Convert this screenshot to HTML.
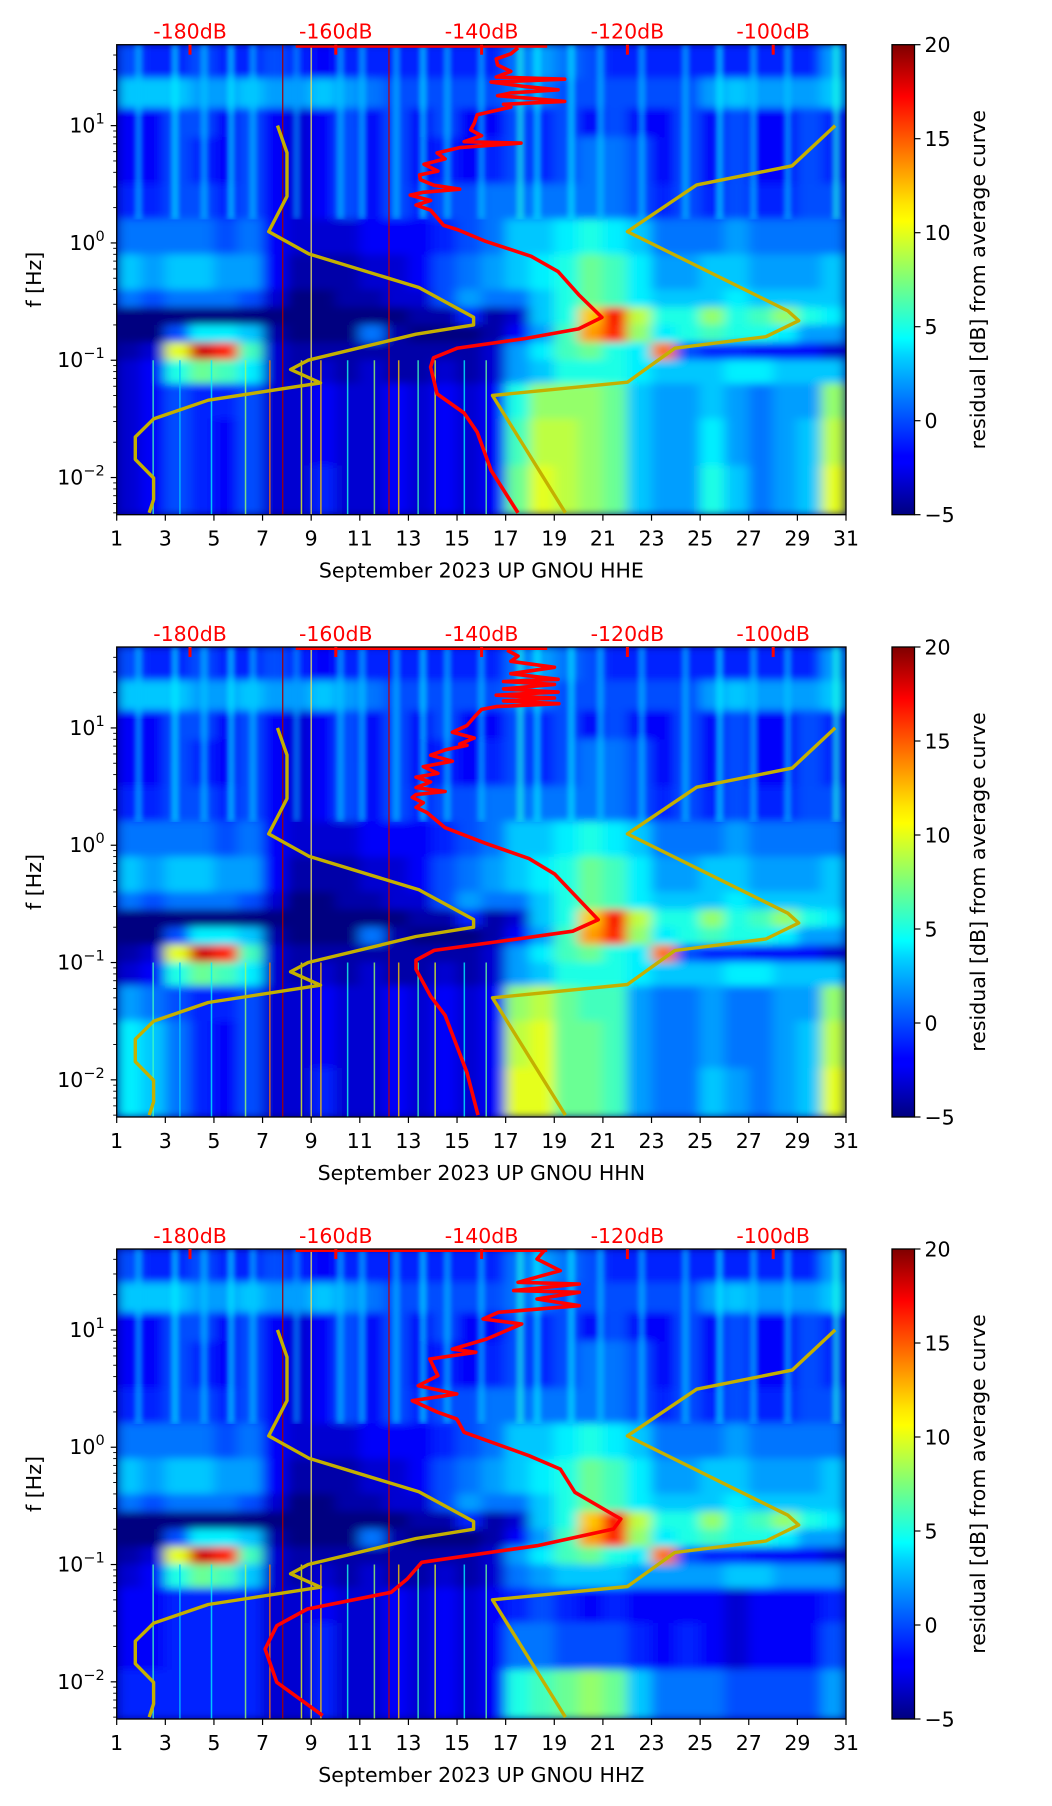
<!DOCTYPE html>
<html><head><meta charset="utf-8">
<style>
html,body{margin:0;padding:0;background:#fff;}
svg{display:block;font-family:"DejaVu Sans","Liberation Sans",sans-serif;}
</style></head>
<body>
<svg id="fig" width="1052" height="1806" viewBox="0 0 1052 1806" xmlns="http://www.w3.org/2000/svg">
<defs>
<linearGradient id="jetgrad" x1="0" y1="1" x2="0" y2="0">
<stop offset="0" stop-color="#00007f"/><stop offset="0.11" stop-color="#0000ff"/><stop offset="0.125" stop-color="#0000ff"/>
<stop offset="0.34" stop-color="#00d4ff"/><stop offset="0.375" stop-color="#0ff"/><stop offset="0.5" stop-color="#7dff7a"/>
<stop offset="0.625" stop-color="#ff0"/><stop offset="0.66" stop-color="#ffe600"/><stop offset="0.89" stop-color="#ff0000"/><stop offset="1" stop-color="#7f0000"/>
</linearGradient>
<filter id="blur" x="0" y="0" width="1" height="1"><feGaussianBlur stdDeviation="6 4" edgeMode="duplicate"/></filter>
<filter id="sblur" x="-0.5" y="0" width="2" height="1"><feGaussianBlur stdDeviation="2 3"/></filter>
</defs>
</svg>
<script>
// ---- data ----
const days = [1,3,5,7,9,11,13,15,17,19,21,23,25,27,29,31];
const yDecades = [1,0,-1,-2];
const cbTicks = [-5,0,5,10,15,20];
const dbTicks = [-180,-160,-140,-120,-100];
const bandEdges = [1.69,1.4,1.15,0.9,0.5,0.2,-0.1,-0.4,-0.55,-0.7,-0.85,-1.0,-1.2,-1.5,-1.9,-2.315];
const rowA = [0,-1,-1,0,-1,-1,0,-1,-2,-1,-1,-1,-1,-1,-1,-1,1,2,1,0,-1,-1,-1,-1,-1,-1,-1,-1,-1,2];
const rowB = [3,3,3,2,2,3,2,2,3,2,1,0,0,0,0,0,1,1,0,0,0,0,0,0,2,3,2,2,2,3];
const rowC = [-2,-2,0,0,-2,0,-2,-3,-2,0,-2,0,-2,0,-2,-2,0,-1,0,-2,0,-2,-2,0,-2,0,-2,-2,0,-1];
const rowD = [-2,-2,0,-1,-2,0,-2,-3,-2,0,-2,0,-2,-1,-2,-1,0,-1,0,1,1,0,-2,0,-2,0,-2,-2,0,-1];
const rowE = [-1,-1,0,0,-1,0,-2,-3,-2,0,-2,0,-1,0,0,1,1,1,1,1,1,0,-1,0,-1,0,-1,-1,0,0];
const rowF = [1,1,1,1,0,1,-2,-3,-3,-3,-2,-2,-2,-1,0,1,3,3,4,5,4,3,1,1,1,2,1,1,1,1];
const rowG = [3,2,3,3,2,2,-2,-4,-4,-4,-3,-3,-2,0,1,2,3,4,5,7,6,4,2,2,3,3,2,2,2,3];
const rowH = [1,0,1,1,1,0,-3,-5,-5,-4,-4,-3,-3,0,2,1,1,3,5,7,6,4,3,3,3,4,3,3,3,3];
const rowI = [-5,-5,-5,-5,-5,-5,-5,-5,-5,-5,-5,-5,-4,-4,-1,-4,-3,3,5,12,17,9,5,5,8,5,6,8,5,4];
const rowJ = [-5,-5,0,4,4,3,-4,-5,-5,-5,1,-4,-5,-5,-5,-4,-2,2,6,13,16,8,4,5,6,5,5,4,2,2];
const rowK = [-4,-3,10,18,16,6,-3,-4,-4,-4,-4,-4,-4,-4,-4,-3,2,4,6,7,5,4,14,0,-1,-1,-2,-2,-2,-3];
const rowL = [-3,-2,5,7,6,4,-3,-4,-3,-4,-3,-4,-4,-3,-4,-3,2,3,5,5,5,4,3,3,3,4,4,3,3,3];
const rowM1 = [-3,-2,0,-1,-1,0,-3,-3,-2,-3,-3,-2,-3,-2,-3,-2,5,8,8,8,7,3,2,2,3,2,1,2,2,8];
const rowN1 = [-3,-2,0,-1,-2,0,-3,-3,-2,-3,-3,-2,-3,-2,-3,-2,6,9,9,8,7,3,2,2,4,2,1,2,3,9];
const rowO1 = [-3,-2,0,-1,-2,0,-3,-3,-1,-3,-3,-2,-3,-2,-3,-2,7,10,9,8,7,3,2,2,5,3,1,2,3,10];
const rowM2 = [2,1,0,-1,-1,0,-3,-3,-2,-3,-3,-2,-3,-2,-3,-2,8,9,7,6,6,2,1,1,2,1,1,2,2,8];
const rowN2 = [4,3,1,-1,-2,0,-3,-3,-2,-3,-3,-2,-3,-2,-3,-2,9,10,7,7,6,2,1,1,2,1,1,2,3,9];
const rowO2 = [4,3,1,-1,-2,0,-3,-3,-1,-3,-3,-2,-3,-2,-3,-2,10,10,7,7,6,2,1,1,3,2,1,2,3,10];
const rowL3 = [-3,-2,5,7,6,3,-3,-4,-3,-4,-3,-4,-4,-3,-4,-3,1,2,3,3,3,2,2,2,2,3,3,2,2,2];
const rowM3 = [-2,-2,-1,-1,-1,-1,-3,-3,-2,-3,-3,-2,-3,-2,-3,-2,-1,0,-1,-2,-1,-2,-2,-2,-2,-3,-2,-2,-2,-1];
const rowN3 = [-2,-2,-1,-1,-1,-1,-3,-3,-1,-3,-3,-2,-3,-2,-3,-2,1,1,0,0,0,-1,-2,-1,-2,-3,-2,-2,-2,0];
const rowO3 = [-1,-1,-1,-1,-1,-1,-3,-3,-1,-3,-3,-2,-3,-2,-3,-2,5,6,7,8,7,3,1,1,1,0,0,0,0,2];
// daily noise stripes (day of stripe, residual dB)
const stripeDays = [1.9,3.4,4.6,5.7,6.6,8.4,10.2,11.1,12.5,13.6,14.6,16.0,17.6,18.3,19.7,20.9,22.6,24.4,25.8,27.2,28.6,30.6];
const stripeVals = [3,4,3,4,3,2,3,3,3,4,3,3,5,4,4,3,3,3,4,3,3,5];
const spikeDays = [2.5,3.6,4.9,6.3,7.3,8.6,9.4,10.5,11.6,12.6,13.4,14.1,15.3,16.2];
const spikeVals = [6,3,4,8,14,10,12,5,8,12,6,10,4,7];
// NLNM / NHNM (period s, dB)
const nlnmPeriod = [0.1,0.17,0.4,0.8,1.24,2.4,4.3,5,6,10,12,15.6,21.9,31.6,45,70,101,154,200];
const nlnmDB = [-168.0,-166.7,-166.7,-169.2,-163.7,-148.6,-141.1,-141.1,-149.0,-163.8,-166.2,-162.1,-177.5,-185.0,-187.5,-187.5,-185.0,-185.0,-185.6];
const nhnmPeriod = [0.1,0.22,0.32,0.8,3.8,4.6,6.3,7.9,15.4,20,200];
const nhnmDB = [-91.5,-97.4,-110.5,-120.0,-98.0,-96.5,-101.0,-113.5,-120.0,-138.5,-128.5];
// average PSD curves
const redHz12 = [46,41,37,32.9,29,26,24.9,23.5,21.5,20.2,19,18,17,16.1,15.2,14.4,12.4,10.5,9.2,8.2,7.3,7.1,6.5,5.85,5.2,4.68,4.1,3.8,3.46,3.1,2.87,2.7,2.56,2.3,2.1,1.9,1.41,1.3,1.04,0.77,0.57,0.363,0.232,0.185,0.153,0.127,0.105,0.0875,0.0516,0.0355,0.0244,0.0115,0.005];
const redDB1 = [-135,-136,-138,-137.8,-136,-138,-128.6,-138.7,-134,-129.5,-136,-137.8,-133,-128.6,-137,-136,-140.6,-141,-141.5,-140,-142.4,-134.6,-143,-146.1,-145,-147.9,-146,-148.5,-148.4,-146.5,-143,-148,-149.8,-147,-149,-147,-145.2,-143.3,-139.6,-133.2,-129.5,-126.7,-123.5,-126.7,-134.1,-143.3,-146.6,-147,-146.1,-142.4,-140.6,-138.7,-135];
const redDB2 = [-136.5,-135,-136,-130,-136,-129.5,-137,-130,-137,-129.5,-138,-130,-137,-129.4,-138,-140,-141,-142,-144,-141,-143,-142,-145,-147,-144,-148,-146,-149,-147,-149,-145,-149,-149.5,-148,-149,-147.5,-145,-143.5,-139.5,-133.5,-130,-127,-124,-127.5,-137,-146.5,-149,-149,-147,-145,-144,-142,-140.5];
const redLogF3 = [1.676,1.605,1.505,1.406,1.392,1.335,1.321,1.264,1.207,1.15,1.093,1.051,0.923,0.837,0.809,0.752,0.61,0.525,0.454,0.397,0.298,0.241,0.127,-0.072,-0.186,-0.384,-0.612,-0.697,-0.839,-0.981,-1.123,-1.237,-1.379,-1.521,-1.72,-2.004,-2.288];
const redDB3 = [-131.4,-132.4,-129.2,-135.0,-126.6,-135.6,-126.6,-132.4,-126.6,-137.7,-139.8,-134.5,-139.3,-144.0,-140.8,-147.1,-146.0,-148.7,-143.4,-149.5,-146.0,-143.4,-142.4,-133.5,-129.2,-127.2,-120.9,-121.9,-132.4,-148.2,-150.2,-152.4,-163.9,-168.1,-169.7,-168.1,-161.8];
const topLineDB = [-165.5,-131];
const vLineDays = [7.83,9.0,12.2];
const vLineColors = ['#a00000','#e8e060','#c00000'];
const channels = ['HHE','HHN','HHZ'];

// ---- layout ----
const NS='http://www.w3.org/2000/svg';
const svg=document.getElementById('fig');
const L=116.7, R=846, H=470, tops=[44.7,647,1249];
const CBX=892, CBW=22.5;
function xScale(d){return L+(d-1)*(R-L)/30;}
function yScale(top,logf){return top+(1.69-logf)*117.3;}
function dbScale(db){return 190+(db+180)*7.29;}
function cbScale(top,v){return top+H-(v+5)/25*H;}
function cl(v){return Math.max(0,Math.min(1,v));}
function jet(v){const t=cl((v+5)/25);const r=cl(1.5-Math.abs(4*t-3)),g=cl(1.5-Math.abs(4*t-2)),b=cl(1.5-Math.abs(4*t-1));return `rgb(${Math.round(r*255)},${Math.round(g*255)},${Math.round(b*255)})`;}
function mk(tag,attrs,parent){const e=document.createElementNS(NS,tag);for(const k in attrs)e.setAttribute(k,attrs[k]);(parent||svg).appendChild(e);return e;}

const grids=[
 [rowA,rowB,rowC,rowD,rowE,rowF,rowG,rowH,rowI,rowJ,rowK,rowL,rowM1,rowN1,rowO1],
 [rowA,rowB,rowC,rowD,rowE,rowF,rowG,rowH,rowI,rowJ,rowK,rowL,rowM2,rowN2,rowO2],
 [rowA,rowB,rowC,rowD,rowE,rowF,rowG,rowH,rowI,rowJ,rowK,rowL3,rowM3,rowN3,rowO3]];
const reds=[
 {lf:redHz12.map(Math.log10),db:redDB1},
 {lf:redHz12.map(Math.log10),db:redDB2},
 {lf:redLogF3,db:redDB3}];

tops.forEach((top,pi)=>{
  const g=mk('g',{});
  
  
  const cp=mk('clipPath',{id:'clip'+pi},g);
  mk('rect',{x:L,y:top,width:R-L,height:H},cp);
  const hm=mk('g',{'clip-path':`url(#clip${pi})`},g);
  
  
  mk('rect',{x:L,y:top,width:R-L,height:H,fill:'#00007f'},hm);
  const hb=mk('g',{filter:'url(#blur)'},hm);
  grids[pi].forEach((row,ri)=>{
    const y0=yScale(top,bandEdges[ri]), y1=yScale(top,bandEdges[ri+1]);
    row.forEach((v,ci)=>{
      const r=mk('rect',{x:xScale(ci+1)-0.3,y:y0-0.3,width:xScale(ci+2)-xScale(ci+1)+0.6,height:y1-y0+0.6,fill:jet(v)},hb);
      
      
    });
  });
  // daily stripes in the high-frequency band
  const sg=mk('g',{filter:'url(#sblur)',opacity:0.55},hm);
  stripeDays.forEach((d,i)=>{
    const s=mk('rect',{x:xScale(d)-4,y:top,width:8,height:yScale(top,0.2)-top,fill:jet(stripeVals[i])},sg);
    
    
  });
  // thin transient spikes at low frequency
  spikeDays.forEach((d,i)=>{
    const s=mk('line',{x1:xScale(d),x2:xScale(d),y1:yScale(top,-1.0),y2:top+H,stroke:jet(spikeVals[i]),'stroke-width':1.5,opacity:0.8},hm);
    
    
  });
  vLineDays.forEach((d,i)=>{
    const l=mk('line',{x1:xScale(d),x2:xScale(d),y1:top,y2:top+H,stroke:vLineColors[i],'stroke-width':1.2},hm);
    
    
  });
  const toPts=(per,db)=>per.map((p,i)=>`${dbScale(db[i]).toFixed(1)},${yScale(top,-Math.log10(p)).toFixed(1)}`).join(' ');
  const lo=mk('polyline',{points:toPts(nlnmPeriod,nlnmDB),fill:'none',stroke:'#c4b000','stroke-width':3.4,'stroke-linejoin':'round'},hm);
  
  
  const hi=mk('polyline',{points:toPts(nhnmPeriod,nhnmDB),fill:'none',stroke:'#c4b000','stroke-width':3.4,'stroke-linejoin':'round'},hm);
  
  
  const rd=reds[pi];
  const rp=mk('polyline',{points:rd.lf.map((f,i)=>`${dbScale(rd.db[i]).toFixed(1)},${yScale(top,f).toFixed(1)}`).join(' '),fill:'none',stroke:'#ff0000','stroke-width':3.6,'stroke-linejoin':'round'},hm);
  
  
  const tl=mk('line',{x1:dbScale(topLineDB[0]),x2:dbScale(topLineDB[1]),y1:top+1.5,y2:top+1.5,stroke:'#ff0000','stroke-width':3},hm);
  
  
  const fr=mk('rect',{x:L,y:top,width:R-L,height:H,fill:'none',stroke:'#000','stroke-width':1.3},g);
  
  
  dbTicks.forEach(db=>{
    const x=dbScale(db);
    const t=mk('line',{x1:x,x2:x,y1:top,y2:top+10,stroke:'#ff0000','stroke-width':3},g);
    
    
    const tx=mk('text',{x:x,y:top-6,'text-anchor':'middle','font-size':20.5,fill:'#ff0000'},g);
    tx.textContent=db+'dB';
    
    
  });
  days.forEach(d=>{
    const x=xScale(d);
    mk('line',{x1:x,x2:x,y1:top+H,y2:top+H+6,stroke:'#000','stroke-width':1.2},g);
    const tx=mk('text',{x:x,y:top+H+31,'text-anchor':'middle','font-size':20.5,fill:'#000'},g);
    tx.textContent=d;
    
    
  });
  const xl=mk('text',{x:(L+R)/2,y:top+H+63,'text-anchor':'middle','font-size':20.5,fill:'#000'},g);
  xl.textContent='September 2023 UP GNOU  '+channels[pi];
  xl.setAttribute('xml:space','preserve');
  
  
  for(let dec=-3;dec<=1;dec++){
    for(let m=1;m<=9;m++){
      const lf=dec+Math.log10(m);
      if(lf<-2.315||lf>1.69)continue;
      const y=yScale(top,lf);
      mk('line',{x1:L,x2:L-(m===1?6:3.5),y1:y,y2:y,stroke:'#000','stroke-width':m===1?1.2:0.9},g);
    }
  }
  yDecades.forEach(e=>{
    const y=yScale(top,e);
    const tx=mk('text',{x:L-12,y:y+7,'text-anchor':'end','font-size':20.5,fill:'#000'},g);
    
    
    const a=mk('tspan',{},tx);a.textContent='10';
    const b=mk('tspan',{dy:-9,'font-size':14.5},tx);b.textContent=(e<0?'\u2212':'')+Math.abs(e);
  });
  const yl=mk('text',{x:0,y:0,transform:`translate(41,${top+H/2}) rotate(-90)`,'text-anchor':'middle','font-size':20.5,fill:'#000'},g);
  yl.textContent='f [Hz]';
  
  
  const cb=mk('rect',{x:CBX,y:top,width:CBW,height:H,fill:'url(#jetgrad)',stroke:'#000','stroke-width':1.3},g);
  
  
  cbTicks.forEach(v=>{
    const y=cbScale(top,v);
    mk('line',{x1:CBX+CBW,x2:CBX+CBW+6,y1:y,y2:y,stroke:'#000','stroke-width':1.2},g);
    const tx=mk('text',{x:CBX+CBW+10,y:y+7.5,'font-size':20.5,fill:'#000'},g);
    tx.textContent=v<0?'\u2212'+Math.abs(v):v;
    
    
  });
  const cl2=mk('text',{x:0,y:0,transform:`translate(985,${top+H/2}) rotate(-90)`,'text-anchor':'middle','font-size':20.5,fill:'#000'},g);
  cl2.textContent='residual [dB] from average curve';
  
  
});
</script>
</body></html>
